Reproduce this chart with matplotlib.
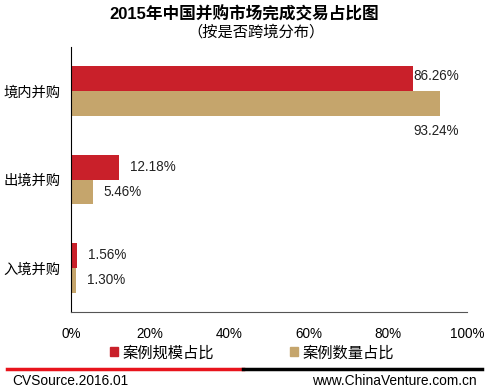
import matplotlib.pyplot as plt
from matplotlib.lines import Line2D
from matplotlib.patches import Patch
import numpy as np

plt.rcParams['font.family'] = ['Liberation Sans', 'Noto Sans CJK SC']

categories = ['境内并购', '出境并购', '入境并购']
scale_share = [86.26, 12.18, 1.56]   # 案例规模占比
count_share = [93.24, 5.46, 1.30]    # 案例数量占比
xticks = [0, 20, 40, 60, 80, 100]

red = '#C9202A'
tan = '#C5A56C'

fig = plt.figure(figsize=(4.88, 3.9), dpi=100)
ax = fig.add_axes([71/488, 1 - 312/390, 396/488, 265/390])

y = np.arange(len(categories))
h = 0.28
ax.barh(y - h/2, scale_share, height=h, color=red)
ax.barh(y + h/2, count_share, height=h, color=tan)

ax.set_ylim(2.5, -0.5)
ax.set_xlim(0, 100)
ax.set_yticks(y)
ax.set_yticklabels(categories, fontsize=10.3)
ax.set_xticks(xticks)
ax.set_xticklabels([f'{v}%' for v in xticks], fontsize=9.75)
ax.tick_params(length=0)
ax.tick_params(axis='y', pad=7.5)
ax.tick_params(axis='x', pad=11)
ax.spines['top'].set_visible(False)
ax.spines['right'].set_visible(False)
ax.spines['left'].set_color('black')
ax.spines['bottom'].set_color('#555555')
ax.spines['bottom'].set_linewidth(0.8)

# value labels
lab = dict(fontsize=9.75, color='#222222')
for i in range(len(categories)):
    if i == 0:
        ax.text(scale_share[i] + 0.3, y[i] - h/2 - 0.03, f'{scale_share[i]:.2f}%',
                va='center', ha='left', **lab)
        ax.text(count_share[i] + 4.8, y[i] + 0.45, f'{count_share[i]:.2f}%',
                va='center', ha='right', **lab)
    else:
        ax.text(scale_share[i] + 2.8, y[i] - h/2, f'{scale_share[i]:.2f}%',
                va='center', ha='left', **lab)
        ax.text(count_share[i] + 2.8, y[i] + h/2, f'{count_share[i]:.2f}%',
                va='center', ha='left', **lab)

fig.text(0.5, 1 - 14/390, '2015年中国并购市场完成交易占比图', ha='center', va='center',
         fontsize=12, fontweight='bold')
fig.text(256/488, 1 - 32/390, '（按是否跨境分布）', ha='center', va='center', fontsize=11)

handles = [Patch(color=red, label='案例规模占比'), Patch(color=tan, label='案例数量占比')]
fig.legend(handles=handles, loc='center', bbox_to_anchor=(252/488, 1 - 353/390), ncol=2,
           frameon=False, fontsize=11, handlelength=0.5, handleheight=0.5,
           handletextpad=0.3, columnspacing=5, borderpad=0, borderaxespad=0)

# footer line
fig.add_artist(Line2D([7/488, 243/488], [1 - 369/390] * 2, color='#E8141C', lw=2.5))
fig.add_artist(Line2D([243/488, 482/488], [1 - 369/390] * 2, color='black', lw=2.5))
fig.text(12/488, 1 - 381/390, 'CVSource.2016.01', ha='left', va='center', fontsize=9.9)
fig.text(477/488, 1 - 381/390, 'www.ChinaVenture.com.cn', ha='right', va='center', fontsize=9.9)

fig.savefig('out.png', dpi=100)
